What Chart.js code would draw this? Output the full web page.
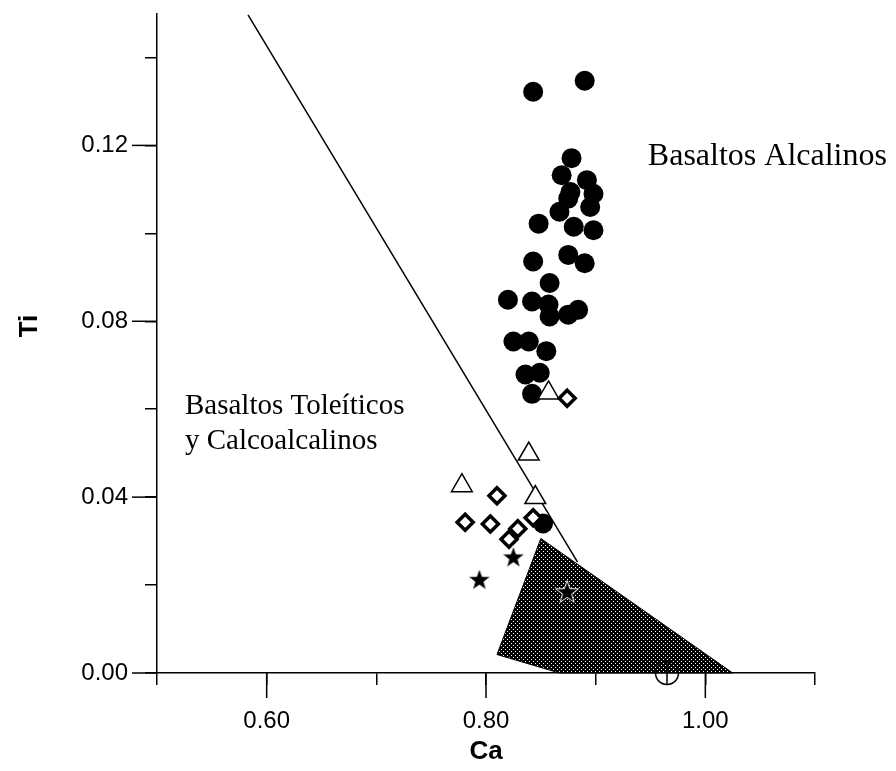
<!DOCTYPE html>
<html><head><meta charset="utf-8">
<script src="https://cdn.jsdelivr.net/npm/chart.js@4"></script>
<style>html,body{margin:0;padding:0;background:#fff}canvas{display:block}</style>
</head><body>
<canvas id="c" width="896" height="771"></canvas>
<script>
// ---- tick values and labels ----
const xTicks = [0.5, 0.6, 0.7, 0.8, 0.9, 1.0, 1.1];
const xTickLabels = ['', '0.60', '', '0.80', '', '1.00', ''];
const yTicks = [0, 0.02, 0.04, 0.06, 0.08, 0.10, 0.12, 0.14];
const yTickLabels = ['0.00', '', '0.04', '', '0.08', '', '0.12', ''];

// ---- samples: filled circles ----
const alkCa = [0.843,0.890,0.878,0.869,0.892,0.877,0.898,0.875,0.895,0.867,0.848,0.880,0.898,0.875,0.890,0.843,0.858,0.820,0.842,0.857,0.858,0.875,0.884,0.825,0.839,0.855,0.836,0.849,0.842,0.852];
const alkTi = [0.1322,0.1347,0.1171,0.1132,0.1121,0.1094,0.1090,0.1079,0.1060,0.1049,0.1022,0.1015,0.1007,0.0951,0.0932,0.0936,0.0887,0.0849,0.0845,0.0838,0.0811,0.0815,0.0826,0.0754,0.0754,0.0732,0.0679,0.0683,0.0635,0.0340];
// open triangles
const triCa = [0.857, 0.839, 0.778, 0.845];
const triTi = [0.0637, 0.0498, 0.0426, 0.0399];
// open diamonds
const diaCa = [0.874, 0.810, 0.781, 0.804, 0.843, 0.829, 0.821];
const diaTi = [0.0625, 0.0403, 0.0343, 0.0339, 0.0353, 0.0328, 0.0304];
// stars
const starCa = [0.825, 0.794, 0.874];
const starTi = [0.0263, 0.0212, 0.0184];
// crossed circle
const crossCa = [0.965];
const crossTi = [0.0];

// ---- discriminant line and shaded field ----
const lineCa = [0.583, 0.8835];
const lineTi = [0.1497, 0.0252];
const fieldCa = [0.850, 1.025, 0.867, 0.810, 0.850];
const fieldTi = [0.0306, 0.0, 0.0, 0.0042, 0.0306];

const pts = (xs, ys) => xs.map((x, i) => ({x: x, y: ys[i]}));

// custom point images
function starCanvas() {
  const c = document.createElement('canvas'); c.width = 28; c.height = 28;
  const g = c.getContext('2d');
  g.beginPath();
  for (let i = 0; i < 10; i++) {
    const r = i % 2 === 0 ? 12 : 4.8;
    const a = -Math.PI / 2 + i * Math.PI / 5;
    const px = 14 + r * Math.cos(a), py = 14.5 + r * Math.sin(a);
    if (i === 0) g.moveTo(px, py); else g.lineTo(px, py);
  }
  g.closePath();
  g.fillStyle = '#000'; g.fill();
  g.strokeStyle = '#fff'; g.lineWidth = 1; g.stroke();
  return c;
}
function crossCanvas() {
  const c = document.createElement('canvas'); c.width = 28; c.height = 28;
  const g = c.getContext('2d');
  g.strokeStyle = '#000'; g.lineWidth = 1.5;
  g.beginPath(); g.arc(14, 14, 11.5, 0, Math.PI * 2); g.stroke();
  g.beginPath(); g.moveTo(14, 2.5); g.lineTo(14, 25.5); g.stroke();
  return c;
}
const canvas = document.getElementById('c');
const ctx = canvas.getContext('2d');
const pc = document.createElement('canvas'); pc.width = 4; pc.height = 4;
const pg = pc.getContext('2d');
pg.fillStyle = '#000'; pg.fillRect(0, 0, 4, 4);
pg.fillStyle = '#fff'; pg.fillRect(1, 1, 1, 1); pg.fillRect(3, 3, 1, 1);
const pattern = ctx.createPattern(pc, 'repeat');

const overlay = {
  id: 'overlay',
  afterDraw(chart) {
    const {ctx, chartArea, scales: {x, y}} = chart;
    ctx.save(); ctx.strokeStyle = '#000'; ctx.lineWidth = 1.5;
    xTicks.forEach((v, i) => { if (xTickLabels[i]) { const px = x.getPixelForValue(v);
      ctx.beginPath(); ctx.moveTo(px, chartArea.bottom); ctx.lineTo(px, chartArea.bottom + 25); ctx.stroke(); } });
    yTicks.forEach((v, i) => { if (yTickLabels[i]) { const py = y.getPixelForValue(v);
      ctx.beginPath(); ctx.moveTo(chartArea.left, py); ctx.lineTo(chartArea.left - 25, py); ctx.stroke(); } });
    // field labels
    ctx.fillStyle = '#000'; ctx.textBaseline = 'middle'; ctx.textAlign = 'left';
    ctx.font = '32px "Liberation Serif"';
    ctx.fillText('Basaltos Alcalinos', x.getPixelForValue(0.9476), y.getPixelForValue(0.1174));
    ctx.font = '29px "Liberation Serif"';
    ctx.fillText('Basaltos Toleíticos', x.getPixelForValue(0.5255), y.getPixelForValue(0.0607));
    ctx.fillText('y Calcoalcalinos', x.getPixelForValue(0.5255), y.getPixelForValue(0.0526));
    // y axis title
    ctx.save();
    ctx.translate(30, 326); ctx.rotate(-Math.PI / 2);
    ctx.font = 'bold 26px "Liberation Sans"'; ctx.textAlign = 'center';
    ctx.fillText('Ti', 0, 0);
    ctx.restore();
    ctx.restore();
  }
};

new Chart(canvas, {
  type: 'scatter',
  data: { datasets: [
    { type: 'line', data: pts(lineCa, lineTi), borderColor: '#000', borderWidth: 1.5, pointRadius: 0, fill: false, order: 7, clip: false },
    { type: 'line', data: pts(fieldCa, fieldTi), borderColor: '#000', borderWidth: 1, pointRadius: 0, fill: 'shape', backgroundColor: pattern, order: 6, clip: false },
    { data: pts(alkCa, alkTi), pointStyle: 'circle', pointRadius: 10, backgroundColor: '#000', borderColor: '#000', borderWidth: 0, order: 5, clip: false },
    { data: pts(triCa, triTi), pointStyle: 'triangle', pointRadius: 12, backgroundColor: '#fff', borderColor: '#000', borderWidth: 1.5, order: 4, clip: false },
    { data: pts(diaCa, diaTi), pointStyle: 'rectRot', pointRadius: 8, backgroundColor: '#fff', borderColor: '#000', borderWidth: 3.5, order: 3, clip: false },
    { data: pts(starCa, starTi), pointStyle: starCanvas(), order: 2, clip: false },
    { data: pts(crossCa, crossTi), pointStyle: crossCanvas(), order: 1, clip: false }
  ]},
  options: {
    responsive: false, devicePixelRatio: 1, animation: false, events: [],
    layout: { padding: { top: 12, right: 81, left: 0, bottom: 0 } },
    plugins: { legend: { display: false }, tooltip: { enabled: false } },
    scales: {
      x: {
        type: 'linear', min: 0.5, max: 1.1,
        afterFit: s => { s.height = 98; s.paddingLeft = 0; s.paddingRight = 0; },
        afterBuildTicks: s => { s.ticks = xTicks.map(v => ({value: v})); },
        grid: { drawOnChartArea: false, drawTicks: true, tickLength: 12, color: '#000', lineWidth: 1.5 },
        border: { display: true, color: '#000', width: 1.5 },
        ticks: { autoSkip: false, maxRotation: 0, padding: 22, color: '#000', font: { family: 'Liberation Sans', size: 24 },
          callback: (v, i) => xTickLabels[i] },
        title: { display: true, text: 'Ca', color: '#000', font: { family: 'Liberation Sans', size: 26, weight: 'bold' }, padding: { top: 0, bottom: 4 } }
      },
      y: {
        type: 'linear', min: 0, max: 0.15,
        afterFit: s => { s.width = 157; s.paddingTop = 0; s.paddingBottom = 0; },
        afterBuildTicks: s => { s.ticks = yTicks.map(v => ({value: v})); },
        grid: { drawOnChartArea: false, drawTicks: true, tickLength: 12, color: '#000', lineWidth: 1.5 },
        border: { display: true, color: '#000', width: 1.5 },
        ticks: { autoSkip: false, padding: 17, color: '#000', font: { family: 'Liberation Sans', size: 24 },
          callback: (v, i) => yTickLabels[i] },
        title: { display: false }
      }
    }
  },
  plugins: [overlay]
});
</script>
</body></html>
